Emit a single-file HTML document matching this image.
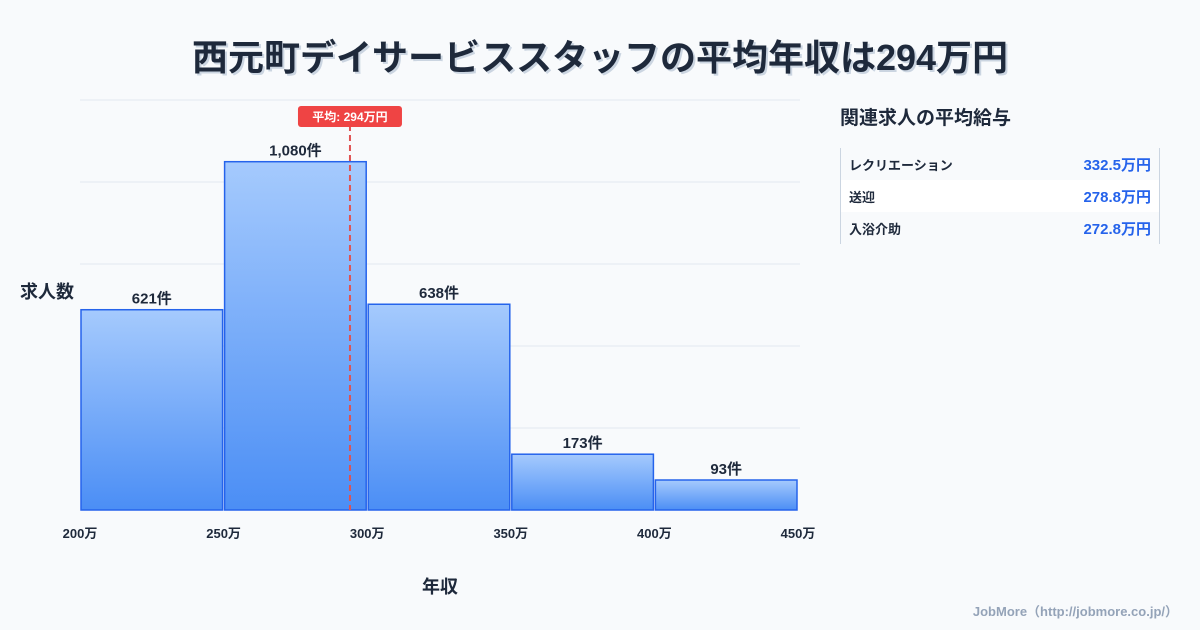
<!DOCTYPE html>
<html><head><meta charset="utf-8">
<style>
body{margin:0;width:1200px;height:630px;background:#f8fafc;font-family:"Liberation Sans","Noto Sans CJK JP",sans-serif;overflow:hidden;position:relative;color:#1e293b}
.title{position:absolute;top:29px;left:0;width:1200px;text-align:center;font-size:36px;font-weight:bold;color:#1e293b;text-shadow:2px 2px 0 #cbd5e1}
.side{position:absolute;left:840px;top:103px;width:320px}
.side h3{margin:0;font-size:19px;font-weight:bold}
table{margin-top:18px;border-collapse:collapse;width:320px;border-left:1px solid #cbd5e1;border-right:1px solid #cbd5e1}
td{height:32px;font-size:13px;font-weight:bold;padding:0 8px}
td.v{text-align:right;color:#2563eb;font-size:15px}
tr:nth-child(2){background:#fff}
.foot{position:absolute;right:22px;bottom:10px;font-size:13px;color:#94a3b8;font-weight:bold}
</style></head><body>
<div class="title">西元町デイサービススタッフの平均年収は294万円</div>
<svg id="chart" width="830" height="630" style="position:absolute;left:0;top:0"></svg>
<div class="side">
<h3>関連求人の平均給与</h3>
<table>
<tr><td>レクリエーション</td><td class="v">332.5万円</td></tr>
<tr><td>送迎</td><td class="v">278.8万円</td></tr>
<tr><td>入浴介助</td><td class="v">272.8万円</td></tr>
</table></div>
<div class="foot">JobMore（http://jobmore.co.jp/）</div>
<script>
const binStarts=[200,250,300,350,400];
const counts=[621,1080,638,173,93];
const xTicks=["200万","250万","300万","350万","400万","450万"];
const avg=294;
const NS="http://www.w3.org/2000/svg",svg=document.getElementById('chart');
const x=v=>80+(v-200)*(718/250), y=v=>510-v*0.3225;
function el(t,a,p){const e=document.createElementNS(NS,t);for(const k in a)e.setAttribute(k,a[k]);(p||svg).appendChild(e);return e;}
const defs=el('defs',{});const g=el('linearGradient',{id:'bg',x1:0,y1:0,x2:0,y2:1},defs);
el('stop',{offset:0,'stop-color':'#a5cafd'},g);el('stop',{offset:1,'stop-color':'#4b8ef5'},g);
for(let i=0;i<5;i++){const l=el('line',{x1:80,x2:800,y1:100+i*82,y2:100+i*82,stroke:'#e2e8f0'});
}
counts.forEach((c,i)=>{const x0=x(binStarts[i])+1,x1=x(binStarts[i]+50)-1;
const r=el('rect',{x:x0,y:y(c),width:x1-x0,height:510-y(c),fill:'url(#bg)',stroke:'#2563eb','stroke-width':1.5});

const t=el('text',{x:(x0+x1)/2,y:y(c)-6,'text-anchor':'middle','font-size':15,'font-weight':'bold',fill:'#1e293b'});
t.textContent=c.toLocaleString()+'件';});
xTicks.forEach((s,i)=>{const t=el('text',{x:x(200+i*50),y:538,'text-anchor':'middle','font-size':13,'font-weight':'bold',fill:'#1e293b'});
t.textContent=s;});
const ax=x(avg);
const al=el('line',{x1:ax,x2:ax,y1:125,y2:510,stroke:'#e05252','stroke-width':2,'stroke-dasharray':'6,4'});

const ab=el('rect',{x:ax-52,y:106,width:104,height:21,rx:3,fill:'#ef4444'});

const at=el('text',{x:ax,y:121,'text-anchor':'middle','font-size':12,'font-weight':'bold',fill:'#fff'});
at.textContent='平均: '+avg+'万円';
const yt=el('text',{x:20,y:298,'font-size':18,'font-weight':'bold',fill:'#1e293b'});
yt.textContent='求人数';
const xt=el('text',{x:440,y:593,'text-anchor':'middle','font-size':18,'font-weight':'bold',fill:'#1e293b'});
xt.textContent='年収';
</script>
</body></html>
